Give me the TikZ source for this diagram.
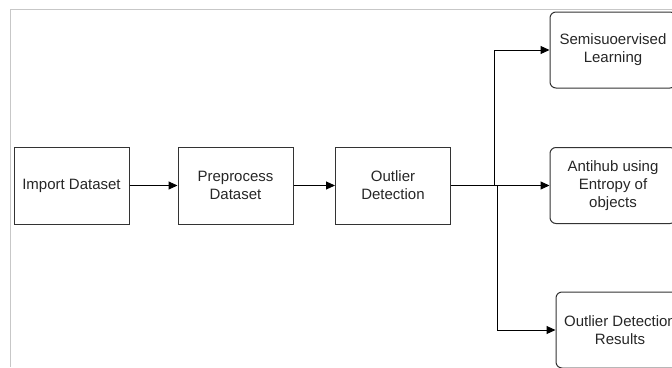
\documentclass[tikz,border=0pt]{standalone}
\usepackage{fontspec}
\setmainfont{Liberation Sans}
\usetikzlibrary{arrows.meta}
\begin{document}
\begin{tikzpicture}[x=1pt,y=-1pt,
  box/.style={draw=black!80,line width=1pt,minimum width=115pt,minimum height=77pt,inner sep=0pt,align=center,font=\fontsize{15}{18}\selectfont,text=black!85},
  rbox/.style={box,rounded corners=6pt,minimum width=126pt,minimum height=76pt},
  conn/.style={draw=black,line width=1pt},
  arr/.style={conn,-{Triangle[length=9pt,width=8pt]}}]
\useasboundingbox (0,0) rectangle (672,367);
\clip (0,0) rectangle (672,367);
\draw[black!22,line width=1pt] (672,9) -- (10,9) -- (10,367);
\node[box] (imp) at (71.5,185.5) {Import Dataset};
\node[box] (pre) at (235.5,185.5) {Preprocess\\Dataset};
\node[box] (out) at (393,185.5) {Outlier\\Detection};
\node[rbox] (semi) at (613,50) {Semisuoervised\\Learning};
\node[rbox] (anti) at (613,185.5) {Antihub using\\Entropy of\\objects};
\node[rbox,minimum width=128pt] (res) at (620,330) {Outlier Detection\\Results};
\coordinate (j1) at (494,185.5);
\coordinate (j2) at (497,185.5);
\draw[arr] (imp) -- (pre);
\draw[arr] (pre) -- (out);
\draw[arr] (out) -- (anti);
\draw[arr] (j1) |- (semi.west);
\draw[arr] (j2) |- (res.west);
\end{tikzpicture}
\end{document}
